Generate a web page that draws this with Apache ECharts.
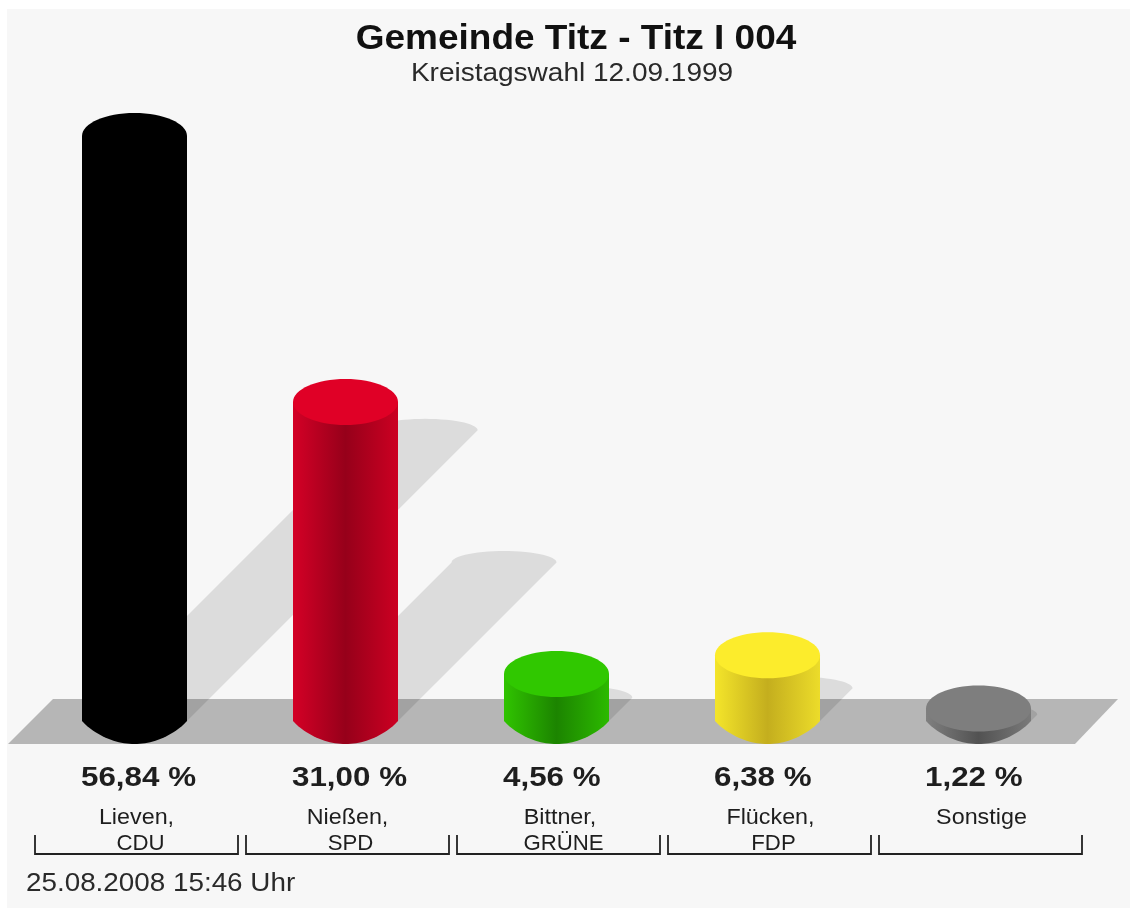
<!DOCTYPE html>
<html>
<head>
<meta charset="utf-8">
<style>html,body{margin:0;padding:0;background:#fff}#c{width:1130px;height:908px}</style>
<script src="https://cdn.jsdelivr.net/npm/echarts@6/dist/echarts.min.js"></script>
</head>
<body>
<div id="c"></div>
<script>
var categories = ['Lieven, CDU', 'Nießen, SPD', 'Bittner, GRÜNE', 'Flücken, FDP', 'Sonstige'];
var nameLine1 = ['Lieven,', 'Nießen,', 'Bittner,', 'Flücken,', 'Sonstige'];
var nameLine2 = ['CDU', 'SPD', 'GRÜNE', 'FDP', ''];
var values = [56.84, 31.00, 4.56, 6.38, 1.22];
var capColors = ['#000000', '#e00026', '#30c800', '#fcec2c', '#7e7e7e'];
var sideLeft = ['#000000', '#d40026', '#30c400', '#f4e52a', '#808080'];
var sideDark = ['#000000', '#96001a', '#1c8400', '#c4ae1e', '#525252'];
var sideRight = ['#000000', '#cc0022', '#2cba00', '#ecdc2a', '#7a7a7a'];
var titleText = 'Gemeinde Titz - Titz I 004';
var subtitleText = 'Kreistagswahl 12.09.1999';
var stampText = '25.08.2008 15:46 Uhr';
var line1Shift = [2, 2, 3.5, 3, 3];
var line2Shift = [6, 5, 7, 6, 0];

var FONT = '"Liberation Sans", Arial, sans-serif';
var RX = 52.5, RY = 23, SHADOW_RATIO = 0.497;

function fmt(v) { return v.toFixed(2).replace('.', ',') + ' %'; }

function txt(x, y, text, size, weight, sx, align, color) {
  return { type: 'text', x: x, y: y, scaleX: sx, silent: true,
    style: { x: 0, y: 0, text: text, fill: color || '#1e1e1e', align: align, verticalAlign: 'middle',
      font: weight + ' ' + size + 'px ' + FONT } };
}

function shadowItem(params, api) {
  var i = api.value(0);
  var base = api.coord([i, 0]), top = api.coord([i, api.value(1)]);
  var d = (base[1] - top[1]) * SHADOW_RATIO;
  var cx = base[0], by = base[1], pts = [];
  pts.push([cx - RX, by]);
  for (var a = 180; a <= 360; a += 6) {
    var r = a * Math.PI / 180;
    pts.push([cx + d + RX * Math.cos(r), by - d + (RY * 0.5) * Math.sin(r)]);
  }
  pts.push([cx + RX, by]);
  return { type: 'polygon', silent: true, shape: { points: pts }, style: { fill: 'rgba(0,0,0,0.105)' } };
}

function cylinderItem(params, api) {
  var i = api.value(0);
  var base = api.coord([i, 0]), top = api.coord([i, api.value(1)]);
  var cx = base[0], by = base[1], ty = top[1], pts = [[cx - RX, ty], [cx + RX, ty]];
  for (var t = 1; t >= -1.0001; t -= 0.05) {
    var tt = Math.max(-1, Math.min(1, t));
    pts.push([cx + RX * tt, by + RY * Math.pow(1 - tt * tt, 0.9)]);
  }
  return { type: 'group', children: [
    { type: 'polygon', silent: true, shape: { points: pts }, style: {
      fill: { type: 'linear', x: 0, y: 0, x2: 1, y2: 0, colorStops: [
        { offset: 0, color: sideLeft[i] }, { offset: 0.5, color: sideDark[i] }, { offset: 1, color: sideRight[i] }] } } },
    { type: 'ellipse', silent: true, shape: { cx: cx, cy: ty, rx: RX, ry: RY }, style: { fill: capColors[i] } }
  ] };
}

function labelItem(params, api) {
  var i = api.value(0);
  var base = api.coord([i, 0]);
  var cx = base[0], by = base[1];
  var halfBand = api.size([1, 0])[0] / 2;
  var lx = cx + 2 - (halfBand - 4), rx = cx + 2 + (halfBand - 4);
  var kids = [
    txt(cx - RX - 1, by + 57, fmt(api.value(1)), 27.5, 'bold', 1.14, 'left'),
    { type: 'polyline', silent: true, shape: { points: [[lx, by + 114], [lx, by + 133], [rx, by + 133], [rx, by + 114]] },
      style: { fill: 'none', stroke: '#222', lineWidth: 1.8 } },
    txt(cx + line1Shift[i], by + 96.5, nameLine1[i], 22, 'normal', 1.06, 'center')
  ];
  if (nameLine2[i]) kids.push(txt(cx + line2Shift[i], by + 123, nameLine2[i], 22, 'normal', 1.01, 'center'));
  return { type: 'group', children: kids };
}

var seriesData = values.map(function (v, i) { return [i, v]; });
var chart = echarts.init(document.getElementById('c'), null, { renderer: 'canvas' });
chart.setOption({
  backgroundColor: '#ffffff',
  animation: false,
  grid: { left: 29, width: 1055, top: 103.6, height: 617.4 },
  xAxis: { type: 'category', data: categories, show: false },
  yAxis: { type: 'value', min: 0, max: 60, show: false },
  graphic: [
    { type: 'rect', z: -10, silent: true, shape: { x: 7, y: 9, width: 1123, height: 899 }, style: { fill: '#f7f7f7' } },
    { type: 'polygon', z: -9, silent: true, shape: { points: [[8, 744], [53, 699], [1118, 699], [1075, 744]] }, style: { fill: '#b6b6b6' } },
    Object.assign(txt(576, 39.5, titleText, 35, 'bold', 1.057, 'center', '#111'), { z: 5 }),
    Object.assign(txt(572, 74, subtitleText, 26, 'normal', 1.077, 'center', '#2a2a2a'), { z: 5 }),
    Object.assign(txt(26, 884, stampText, 26, 'normal', 1.07, 'left', '#2a2a2a'), { z: 5 })
  ],
  series: [
    { type: 'custom', z: 1, renderItem: shadowItem, data: seriesData, clip: false, encode: { x: 0, y: 1 } },
    { type: 'custom', z: 2, renderItem: cylinderItem, data: seriesData, clip: false, encode: { x: 0, y: 1 } },
    { type: 'custom', z: 3, renderItem: labelItem, data: seriesData, clip: false, encode: { x: 0, y: 1 } }
  ]
});
</script>
</body>
</html>
